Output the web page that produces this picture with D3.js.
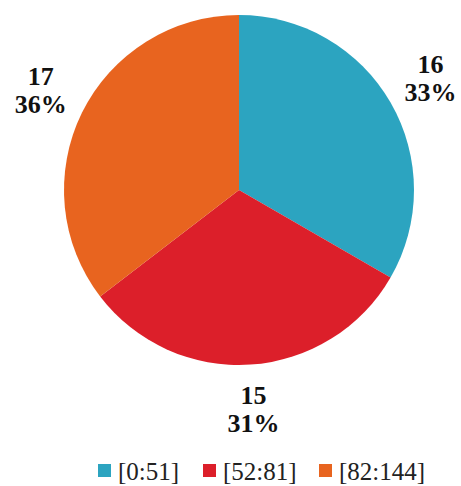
<!DOCTYPE html>
<meta charset="utf-8">
<style>
body { margin: 0; background: #fff; }
.labels text { font-family: "Liberation Serif", "Times New Roman", serif; font-weight: bold; font-size: 26px; fill: #111; }
.legend text { font-family: "Liberation Serif", "Times New Roman", serif; font-size: 25px; fill: #222; }
</style>
<svg width="461" height="486"></svg>
<script src="https://cdn.jsdelivr.net/npm/d3@7"></script>
<script>

var categories = ["[0:51]", "[52:81]", "[82:144]"];
var counts = [16, 15, 17];
var percents = ["33%", "31%", "36%"];
var colors = ["#2ca4c0", "#dc1f2a", "#e8641f"];

var svg = d3.select("svg"),
    cx = 239, cy = 190, radius = 175;

var color = d3.scaleOrdinal().domain(categories).range(colors);

var pie = d3.pie().sort(null).value(function(d) { return d.count; });
var data = categories.map(function(c, i) {
  return { cat: c, count: counts[i], pct: percents[i] };
});
var arcs = pie(data);

var arc = d3.arc().innerRadius(0).outerRadius(radius);
var labelArc = d3.arc().innerRadius(221).outerRadius(221);

var g = svg.append("g").attr("transform", "translate(" + cx + "," + cy + ")");

g.append("g")
  .selectAll("path")
  .data(arcs)
  .enter().append("path")
    .attr("d", arc)
    .attr("fill", function(d) { return color(d.data.cat); });

var label = g.append("g")
    .attr("class", "labels")
  .selectAll("text")
  .data(arcs)
  .enter().append("text")
    .attr("text-anchor", "middle")
    .attr("transform", function(d) { return "translate(" + labelArc.centroid(d) + ")"; });

label.append("tspan").attr("x", 0).attr("dy", -7).text(function(d) { return d.data.count; });
label.append("tspan").attr("x", 0).attr("dy", 28).text(function(d) { return d.data.pct; });

// legend
var legendX = [98, 203, 319];
var legend = svg.append("g")
    .attr("class", "legend")
  .selectAll("g")
  .data(categories)
  .enter().append("g")
    .attr("transform", function(d, i) { return "translate(" + legendX[i] + ",464)"; });

legend.append("rect")
    .attr("width", 13)
    .attr("height", 13)
    .attr("fill", function(d) { return color(d); });

legend.append("text")
    .attr("x", 20)
    .attr("y", 16)
    .text(function(d) { return d; });

</script>
